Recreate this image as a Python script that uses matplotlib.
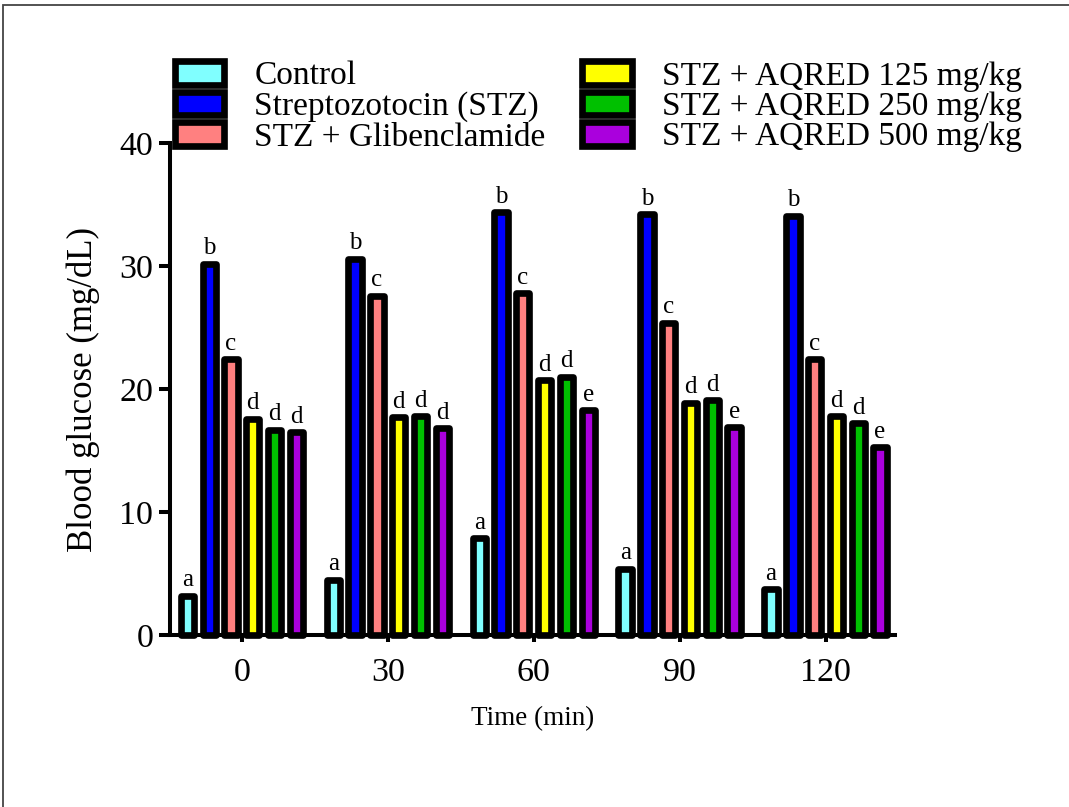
import matplotlib
matplotlib.use("Agg")
import matplotlib.pyplot as plt
from matplotlib.patches import Rectangle
import numpy as np

times = ["0", "30", "60", "90", "120"]
groups = ["Control", "Streptozotocin (STZ)", "STZ + Glibenclamide",
          "STZ + AQRED 125 mg/kg", "STZ + AQRED 250 mg/kg", "STZ + AQRED 500 mg/kg"]
colors = ["#80FFFF", "#0000FF", "#FF8080", "#FFFF00", "#00C000", "#AA00DD"]

control = [3.2, 4.5, 7.9, 5.4, 3.7]
stz = [30.2, 30.6, 34.4, 34.2, 34.1]
glib = [22.4, 27.6, 27.8, 25.4, 22.4]
aqred125 = [17.6, 17.7, 20.7, 18.9, 17.8]
aqred250 = [16.7, 17.8, 21.0, 19.1, 17.2]
aqred500 = [16.5, 16.8, 18.3, 16.9, 15.3]
series = [control, stz, glib, aqred125, aqred250, aqred500]

letters = [
    ["a", "a", "a", "a", "a"],
    ["b", "b", "b", "b", "b"],
    ["c", "c", "c", "c", "c"],
    ["d", "d", "d", "d", "d"],
    ["d", "d", "d", "d", "d"],
    ["d", "d", "e", "e", "e"],
]

plt.rcParams['font.family'] = ['Liberation Serif', 'DejaVu Serif']

fig = plt.figure(figsize=(10.69, 8.07), dpi=100)
ax = fig.add_axes([170/1069, 1-635/807, (895-170)/1069, (635-143)/807])

x = np.arange(len(times))
pitch = 0.1494
width = 0.0912
lw = 4.8
for i, (vals, c, name) in enumerate(zip(series, colors, groups)):
    pos = x + (i - 2.5) * pitch
    ax.bar(pos, vals, width=width, color=c, edgecolor='black', linewidth=lw,
           joinstyle='round', label=name, clip_on=False, zorder=2)
    for p, v, l in zip(pos, vals, letters[i]):
        ax.text(p, v + 0.35, l, ha='center', va='bottom', fontsize=18, zorder=3)

ax.set_xlim(-0.493, 4.476)
ax.set_ylim(0, 40)
ax.set_yticks([0, 10, 20, 30, 40])
ax.set_xticks(x)
ax.set_xticklabels(times)
for s in ['top', 'right']:
    ax.spines[s].set_visible(False)
for s in ['left', 'bottom']:
    ax.spines[s].set_linewidth(2.9)
    ax.spines[s].set_zorder(4)
ax.tick_params(axis='y', length=8, width=2.9, labelsize=24.5, pad=4)
ax.tick_params(axis='x', length=5, width=2.9, labelsize=24.5, pad=11)

ax.set_ylabel("Blood glucose (mg/dL)", fontsize=25)
ax.yaxis.set_label_coords(-0.0966, 0.5)
ax.set_xlabel("Time (min)", fontsize=19.5)
ax.xaxis.set_label_coords(0.5, -0.144)

leg = ax.legend(ncol=2, fontsize=24, frameon=False, loc='upper left',
                bbox_to_anchor=(175/1069, 1-61/807), bbox_transform=fig.transFigure,
                handlelength=1.48, handleheight=0.7, handletextpad=0.9,
                labelspacing=0.0, columnspacing=1.1, borderpad=0, borderaxespad=0)

fig.add_artist(Rectangle((3/1069, -0.1), 1.2, 1 - 5/807 + 0.1, transform=fig.transFigure,
                         fill=False, edgecolor='#444444', linewidth=1.3))

fig.savefig("out.png", dpi=100)
